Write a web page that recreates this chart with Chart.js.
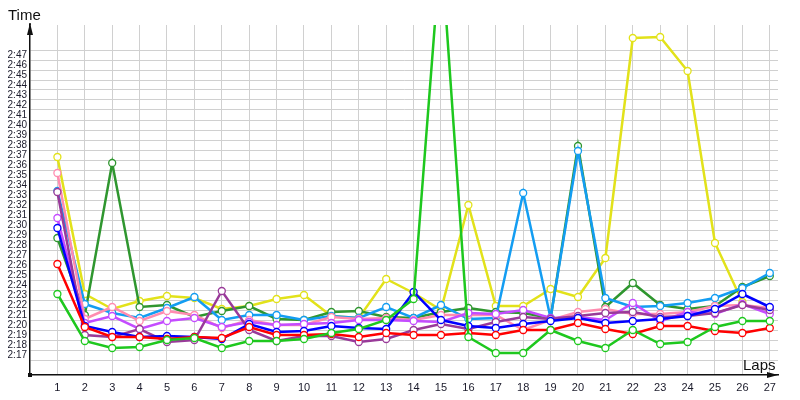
<!DOCTYPE html>
<html>
<head>
<meta charset="utf-8">
<script src="https://cdn.jsdelivr.net/npm/chart.js@4/dist/chart.umd.min.js"></script>
<style>
html,body{margin:0;padding:0;background:#fff;}
#wrap{width:800px;height:400px;position:relative;}
</style>
</head>
<body>
<div id="wrap"><canvas id="c" width="800" height="400"></canvas></div>
<script>
// Laps (x categories)
const laps = [1,2,3,4,5,6,7,8,9,10,11,12,13,14,15,16,17,18,19,20,21,22,23,24,25,26,27];
// Y tick values in seconds (2:17 .. 2:47)
const yTickValues = [137,138,139,140,141,142,143,144,145,146,147,148,149,150,151,152,153,154,155,156,157,158,159,160,161,162,163,164,165,166,167];

// Lap times in seconds, one array per driver
const redTimes =        [146.1,139.8,138.8,138.8,138.6,138.8,138.7,139.8,139.0,139.0,139.1,138.8,139.2,139.0,139.0,139.2,139.0,139.5,139.5,140.2,139.6,139.1,139.9,139.9,139.4,139.2,139.7];
const lightGreenTimes = [143.1,138.4,137.7,137.8,138.5,138.7,137.7,138.4,138.4,138.6,139.2,139.6,140.5,142.6,178.0,138.8,137.2,137.2,139.5,138.4,137.7,139.5,138.1,138.3,139.8,140.4,140.4];
const blueTimes =       [149.7,139.9,139.3,138.8,138.9,138.8,138.6,140.1,139.3,139.4,139.9,139.7,139.6,143.3,140.5,139.9,139.7,140.1,140.4,140.7,140.2,140.4,140.6,140.9,141.6,143.1,141.8];
const lightBlueTimes =  [153.4,142.1,141.2,140.7,141.7,142.8,140.5,141.0,141.0,140.5,140.9,140.7,141.8,140.7,142.0,140.6,140.7,153.2,140.7,157.4,142.7,141.8,141.9,142.2,142.7,143.7,145.2];
const yellowTimes =     [156.8,143.1,141.6,142.4,142.9,142.7,141.6,141.9,142.6,143.0,140.9,140.7,144.6,143.2,141.5,152.0,141.9,141.9,143.6,142.8,146.7,168.7,168.8,165.4,148.2,142.3,null];
const darkGreenTimes =  [148.7,141.0,156.2,141.8,142.0,140.8,141.4,141.9,140.6,140.5,141.3,141.4,140.8,140.7,141.3,141.7,141.3,141.2,140.7,157.9,141.8,144.2,142.0,141.6,141.9,143.8,144.9];
const purpleTimes =     [153.3,139.0,138.8,139.6,138.3,138.5,143.4,139.5,138.4,138.9,138.9,138.3,138.6,139.5,140.1,139.6,140.3,140.8,140.6,140.9,141.2,141.3,140.8,140.9,141.2,142.0,141.5];
const pinkTimes =       [155.2,140.6,141.8,140.4,141.4,141.0,139.7,140.5,140.0,140.0,140.8,140.6,140.7,140.5,141.0,141.0,141.0,139.5,140.5,141.3,141.6,141.1,141.1,141.3,141.9,142.0,141.7];
const magentaTimes =    [150.7,140.2,140.9,139.6,140.4,140.7,139.8,140.3,140.0,140.1,140.2,140.5,140.5,140.4,140.3,141.2,141.1,141.5,140.7,140.8,140.5,142.2,140.4,141.3,141.1,142.1,141.1];

const seriesList = [
  {data: lightGreenTimes, color:'#1ec81e'},
  {data: redTimes,        color:'#ff0000'},
  {data: blueTimes,       color:'#0000ff'},
  {data: purpleTimes,     color:'#993a99'},
  {data: magentaTimes,    color:'#c44cff'},
  {data: pinkTimes,       color:'#ff8cb0'},
  {data: lightBlueTimes,  color:'#139df2'},
  {data: darkGreenTimes,  color:'#2f962f'},
  {data: yellowTimes,     color:'#e2e21a'}
];

function fmt(v){ const m=Math.floor(v/60); const s=Math.round(v-m*60); return m+':'+(s<10?'0':'')+s; }

const datasets = seriesList.map((s)=>({
  data: laps.map((l,i)=>({x:l, y:s.data[i]})),
  borderColor: s.color,
  backgroundColor: '#ffffff',
  pointBackgroundColor: '#ffffff',
  pointBorderColor: s.color,
  pointRadius: 3.5,
  pointBorderWidth: 1.3,
  borderWidth: 2.5,
  tension: 0,
  spanGaps: false
}));

const decor = {
  id:'decor',
  afterDraw(chart){
    const ctx = chart.ctx, a = chart.chartArea;
    ctx.save();
    ctx.fillStyle = '#111';
    ctx.strokeStyle = '#111';
    // y axis extension + arrow
    ctx.lineWidth = 1.5;
    ctx.beginPath(); ctx.moveTo(a.left, a.top); ctx.lineTo(a.left, a.top-2); ctx.stroke();
    ctx.beginPath(); ctx.moveTo(a.left, a.top-2); ctx.lineTo(a.left-3, a.top+10); ctx.lineTo(a.left+3, a.top+10); ctx.closePath(); ctx.fill();
    // x axis arrow
    ctx.beginPath(); ctx.moveTo(a.right, a.bottom); ctx.lineTo(a.right-11, a.bottom-3); ctx.lineTo(a.right-11, a.bottom+3); ctx.closePath(); ctx.fill();
    // origin square
    ctx.fillRect(a.left-2, a.bottom-2, 4, 4);
    // titles
    ctx.font = '15px "Liberation Sans", Arial, sans-serif';
    ctx.textBaseline = 'alphabetic';
    ctx.textAlign = 'left';
    ctx.fillText('Time', 8, 20);
    ctx.fillText('Laps', 743, 370);
    ctx.restore();
  }
};

new Chart(document.getElementById('c'), {
  type: 'line',
  data: { datasets },
  options: {
    responsive: false,
    animation: false,
    events: [],
    layout: { padding: { top: 25, right: 22, left: 0, bottom: 0 } },
    plugins: { legend: { display:false }, tooltip: { enabled:false } },
    scales: {
      x: {
        type: 'linear',
        min: 0, max: 27.3,
        afterBuildTicks(scale){ scale.ticks = laps.map(v=>({value:v})); },
        afterFit(scale){ scale.height = 25; },
        grid: { color:'#d0d0d0', lineWidth:1, drawTicks:false },
        border: { display:true, color:'#111', width:1.5 },
        ticks: { autoSkip:false, maxRotation:0, padding:6, color:'#1a1a2a',
                 font:{ family:'"Liberation Sans", Arial, sans-serif', size:11 },
                 callback:(v)=>String(v) }
      },
      y: {
        type: 'linear',
        min: 135, max: 170,
        afterBuildTicks(scale){ scale.ticks = yTickValues.map(v=>({value:v})); },
        afterFit(scale){ scale.width = 30; },
        grid: { offset:true, drawTicks:false, lineWidth:1,
                color:(c)=> (c.index >= yTickValues.length ? 'rgba(0,0,0,0)' : '#d0d0d0') },
        border: { display:true, color:'#111', width:1.5 },
        ticks: { autoSkip:false, padding:3, color:'#1a1a2a',
                 font:{ family:'"Liberation Sans", Arial, sans-serif', size:10 },
                 callback:(v)=>fmt(v) }
      }
    }
  },
  plugins: [decor]
});
</script>
</body>
</html>
